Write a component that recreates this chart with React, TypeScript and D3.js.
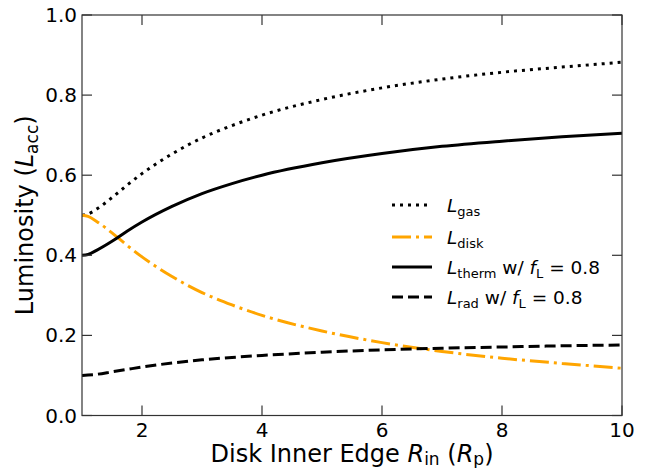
import { useMemo } from "react";
import * as d3 from "d3";

// inner disk edge (planet radii)
const rIn = [1, 1.1, 1.25, 1.5, 1.75, 2, 2.5, 3, 3.5, 4, 5, 6, 7, 8, 9, 10];

// luminosities in units of L_acc
const lGas = [0.5, 0.503, 0.516, 0.544, 0.575, 0.604, 0.653, 0.693, 0.724, 0.75, 0.789, 0.818, 0.84, 0.857, 0.87, 0.882];
const lDisk = [0.5, 0.497, 0.484, 0.456, 0.425, 0.396, 0.347, 0.307, 0.276, 0.25, 0.211, 0.182, 0.16, 0.143, 0.13, 0.118];
const lTherm = [0.4, 0.402, 0.413, 0.435, 0.46, 0.483, 0.522, 0.554, 0.579, 0.6, 0.631, 0.654, 0.672, 0.685, 0.696, 0.705];
const lRad = [0.1, 0.101, 0.103, 0.109, 0.115, 0.121, 0.131, 0.139, 0.145, 0.15, 0.158, 0.164, 0.168, 0.171, 0.174, 0.176];

const xTicks = [2, 4, 6, 8, 10];
const yTicks = [0, 0.2, 0.4, 0.6, 0.8, 1.0];

const W = 652;
const H = 468;
const M = { left: 82, right: 622, top: 15, bottom: 415.5 };
const FONT = "'DejaVu Sans', sans-serif";

export default function App() {
  const x = d3.scaleLinear().domain([1, 10]).range([M.left, M.right]);
  const y = d3.scaleLinear().domain([0, 1]).range([M.bottom, M.top]);

  const series = useMemo(() => [
    { key: "gas", vals: lGas, color: "#000", dash: "3 5", sub: "gas", extra: false },
    { key: "disk", vals: lDisk, color: "#FFA500", dash: "19 5 3 5", sub: "disk", extra: false },
    { key: "therm", vals: lTherm, color: "#000", dash: "none", sub: "therm", extra: true },
    { key: "rad", vals: lRad, color: "#000", dash: "11 5", sub: "rad", extra: true },
  ], []);

  const line = d3.line<[number, number]>()
    .x(d => x(d[0]))
    .y(d => y(d[1]))
    .curve(d3.curveMonotoneX);

  const legendY = [205, 237, 267, 297];
  const TL = 10; // inward tick length

  return (
    <svg width={W} height={H} style={{ position: "fixed", left: 0, top: 0, background: "#fff" }}
      fontFamily={FONT}>
      <defs>
        <clipPath id="plot">
          <rect x={M.left} y={M.top} width={M.right - M.left} height={M.bottom - M.top} />
        </clipPath>
      </defs>

      {/* curves */}
      <g clipPath="url(#plot)">
        {series.map(s => (
          <path key={s.key}
            d={line(rIn.map((r, i) => [r, s.vals[i]] as [number, number])) ?? ""}
            fill="none" stroke={s.color} strokeWidth={3}
            strokeDasharray={s.dash} strokeLinecap="butt" />
        ))}
      </g>

      {/* spines */}
      <rect x={M.left} y={M.top} width={M.right - M.left} height={M.bottom - M.top}
        fill="none" stroke="#333" strokeWidth={1.2} />

      {/* ticks, pointing inward on all four sides */}
      {xTicks.map(t => (
        <g key={"x" + t}>
          <line x1={x(t)} x2={x(t)} y1={M.bottom} y2={M.bottom - TL} stroke="#333" strokeWidth={1.2} />
          <line x1={x(t)} x2={x(t)} y1={M.top} y2={M.top + TL} stroke="#333" strokeWidth={1.2} />
          <text x={x(t)} y={437} textAnchor="middle" fontSize={20}>{t}</text>
        </g>
      ))}
      {yTicks.map(t => (
        <g key={"y" + t}>
          <line x1={M.left} x2={M.left + TL} y1={y(t)} y2={y(t)} stroke="#333" strokeWidth={1.2} />
          <line x1={M.right} x2={M.right - TL} y1={y(t)} y2={y(t)} stroke="#333" strokeWidth={1.2} />
          <text x={77} y={y(t) + 7} textAnchor="end" fontSize={20}>{t.toFixed(1)}</text>
        </g>
      ))}

      {/* axis labels */}
      <text x={(M.left + M.right) / 2} y={462} textAnchor="middle" fontSize={24}>
        Disk Inner Edge <tspan fontStyle="italic">R</tspan>
        <tspan fontSize={17} dy={3}>in</tspan>
        <tspan dy={-3}> (</tspan><tspan fontStyle="italic">R</tspan>
        <tspan fontSize={17} dy={3}>p</tspan>
        <tspan dy={-3}>)</tspan>
      </text>
      <text transform={`translate(33,${(M.top + M.bottom) / 2}) rotate(-90)`} textAnchor="middle" fontSize={24}>
        Luminosity (<tspan fontStyle="italic">L</tspan>
        <tspan fontSize={17} dy={5}>acc</tspan>
        <tspan dy={-5}>)</tspan>
      </text>

      {/* legend */}
      {series.map((s, i) => (
        <g key={"lg" + s.key}>
          <line x1={392} x2={432} y1={legendY[i]} y2={legendY[i]} stroke={s.color}
            strokeWidth={3} strokeDasharray={s.dash} />
          <text x={447} y={legendY[i] + 7} fontSize={18.5}>
            <tspan fontStyle="italic">L</tspan>
            <tspan fontSize={13} dy={4}>{s.sub}</tspan>
            {s.extra && (
              <>
                <tspan dy={-4}> w/ </tspan>
                <tspan fontStyle="italic">f</tspan>
                <tspan fontSize={13} dy={4}>L</tspan>
                <tspan dy={-4}> = 0.8</tspan>
              </>
            )}
          </text>
        </g>
      ))}
    </svg>
  );
}
